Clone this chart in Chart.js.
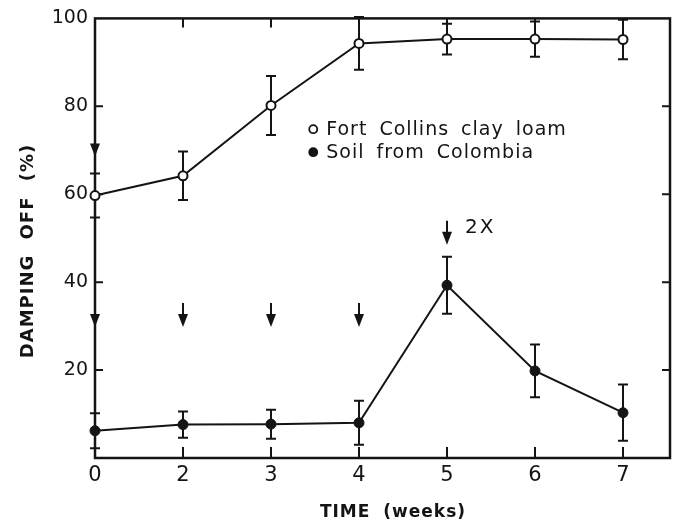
<!DOCTYPE html>
<html lang="en">
<head>
  <meta charset="UTF-8">
  <title>Damping off over time</title>
  <script src="https://cdn.jsdelivr.net/npm/chart.js@4"></script>
  <style>
    html, body { margin: 0; padding: 0; background: #fff; }
    #wrap { width: 677px; height: 526px; }
  </style>
</head>
<body>
  <div id="wrap"><canvas id="dampingChart"></canvas></div>
  <script>
    // weeks (there is no week 1, the points are evenly spaced)
    const weekLabels = ['0', '2', '3', '4', '5', '6', '7'];
    const fortCollins = [59.7, 64.2, 80.2, 94.3, 95.3, 95.3, 95.2];
    const fortCollinsErr = [5, 5.5, 6.7, 6, 3.5, 4, 4.5];
    const colombia = [6.2, 7.6, 7.7, 8, 39.3, 19.8, 10.3];
    const colombiaErr = [4, 3, 3.3, 5, 6.5, 6, 6.4];
    const yTicks = [20, 40, 60, 80, 100];

    // arrows: index on the week axis and value at the arrow tip
    const arrowAt = [0, 0, 1, 2, 3, 4];
    const arrowTip = [68.6, 29.8, 29.8, 29.8, 29.8, 48.5];
    const arrowNote = '2X';

    const xTitle = 'TIME (weeks)';
    const yTitle = 'DAMPING OFF (%)';

    const INK = '#141414';
    const FONT = '"DejaVu Sans", sans-serif';

    // error bars, drawn under the markers
    const errorBars = {
      id: 'errorBars',
      beforeDatasetsDraw(chart) {
        const { ctx, scales: { x, y } } = chart;
        ctx.save();
        ctx.strokeStyle = INK;
        ctx.lineWidth = 2;
        chart.data.datasets.forEach(ds => {
          ds.data.forEach((p, i) => {
            const px = x.getPixelForValue(p.x);
            const top = y.getPixelForValue(p.y + ds.err[i]);
            const bot = y.getPixelForValue(p.y - ds.err[i]);
            ctx.beginPath();
            ctx.moveTo(px, top); ctx.lineTo(px, bot);
            ctx.moveTo(px - 5, top); ctx.lineTo(px + 5, top);
            ctx.moveTo(px - 5, bot); ctx.lineTo(px + 5, bot);
            ctx.stroke();
          });
        });
        ctx.restore();
      }
    };

    // box frame with inward ticks on all four sides, plus axis titles
    const frame = {
      id: 'frame',
      beforeDatasetsDraw(chart) {
        const { ctx, chartArea: a, scales: { x, y } } = chart;
        ctx.save();
        ctx.strokeStyle = INK;
        ctx.lineWidth = 2.5;
        ctx.strokeRect(a.left, a.top, a.right - a.left, a.bottom - a.top);
        ctx.lineWidth = 2;
        ctx.beginPath();
        weekLabels.forEach((_, i) => {
          if (i === 0) return;
          const px = x.getPixelForValue(i);
          ctx.moveTo(px, a.bottom); ctx.lineTo(px, a.bottom - 11);
          ctx.moveTo(px, a.top); ctx.lineTo(px, a.top + 9);
        });
        yTicks.forEach(v => {
          if (v === 100) return;
          const py = y.getPixelForValue(v);
          ctx.moveTo(a.left, py); ctx.lineTo(a.left + 8, py);
          ctx.moveTo(a.right, py); ctx.lineTo(a.right - 8, py);
        });
        ctx.stroke();

        // axis titles
        ctx.fillStyle = INK;
        ctx.textAlign = 'center';
        ctx.textBaseline = 'middle';
        ctx.font = 'bold 17px ' + FONT;
        ctx.letterSpacing = '1px';
        ctx.wordSpacing = '6px';
        ctx.fillText(xTitle, 393, 513);
        ctx.translate(28, 251);
        ctx.rotate(-Math.PI / 2);
        ctx.font = 'bold 18px ' + FONT;
        ctx.letterSpacing = '1px';
        ctx.wordSpacing = '8px';
        ctx.fillText(yTitle, 0, 0);
        ctx.restore();
      }
    };

    // arrows, the 2X note and the legend
    const notes = {
      id: 'notes',
      afterDatasetsDraw(chart) {
        const { ctx, scales: { x, y } } = chart;
        ctx.save();
        ctx.strokeStyle = INK;
        ctx.fillStyle = INK;
        ctx.lineWidth = 2;
        arrowAt.forEach((idx, k) => {
          const px = x.getPixelForValue(idx);
          const tip = y.getPixelForValue(arrowTip[k]);
          ctx.beginPath();
          ctx.moveTo(px, tip - 24); ctx.lineTo(px, tip - 8);
          ctx.stroke();
          ctx.beginPath();
          ctx.moveTo(px - 5, tip - 13);
          ctx.lineTo(px + 5, tip - 13);
          ctx.lineTo(px, tip);
          ctx.closePath();
          ctx.fill();
        });
        const last = arrowAt.length - 1;
        ctx.font = '20px ' + FONT;
        ctx.letterSpacing = '2px';
        ctx.textBaseline = 'middle';
        ctx.fillText(arrowNote, x.getPixelForValue(arrowAt[last]) + 18, y.getPixelForValue(arrowTip[last]) - 17);

        // legend
        const lx = x.getPixelForValue(2.48);
        const ly = y.getPixelForValue(74.8);
        chart.data.datasets.forEach((ds, i) => {
          const py = ly + i * 23;
          ctx.beginPath();
          ctx.arc(lx, py, 4, 0, Math.PI * 2);
          ctx.fillStyle = ds.pointBackgroundColor;
          ctx.fill();
          ctx.lineWidth = 1.8;
          ctx.stroke();
          ctx.fillStyle = INK;
          ctx.font = '19px ' + FONT;
          ctx.letterSpacing = '1px';
          ctx.wordSpacing = '5px';
          ctx.fillText(ds.label, lx + 13, py + 1);
        });
        ctx.restore();
      }
    };

    const toPoints = arr => arr.map((v, i) => ({ x: i, y: v }));

    new Chart(document.getElementById('dampingChart'), {
      type: 'line',
      data: {
        datasets: [
          {
            label: 'Fort Collins clay loam',
            data: toPoints(fortCollins),
            err: fortCollinsErr,
            borderColor: INK,
            borderWidth: 2,
            pointRadius: 4.5,
            pointBorderWidth: 2,
            pointBackgroundColor: '#ffffff',
            pointBorderColor: INK,
            clip: false
          },
          {
            label: 'Soil from Colombia',
            data: toPoints(colombia),
            err: colombiaErr,
            borderColor: INK,
            borderWidth: 2,
            pointRadius: 5,
            pointBorderWidth: 1,
            pointBackgroundColor: INK,
            pointBorderColor: INK,
            clip: false
          }
        ]
      },
      options: {
        responsive: true,
        maintainAspectRatio: false,
        animation: false,
        events: [],
        layout: { padding: { top: 18, right: 7, left: 0, bottom: 0 } },
        plugins: { legend: { display: false }, tooltip: { enabled: false } },
        scales: {
          x: {
            type: 'linear',
            min: 0,
            max: 575 / 88,
            grid: { display: false, drawTicks: false },
            border: { display: false },
            afterBuildTicks: s => { s.ticks = weekLabels.map((_, i) => ({ value: i })); },
            afterFit: s => { s.height = 68; },
            ticks: {
              color: INK,
              padding: 5,
              maxRotation: 0,
              font: { family: FONT, size: 21 },
              callback: v => weekLabels[v]
            }
          },
          y: {
            min: 0,
            max: 100,
            grid: { display: false, drawTicks: false },
            border: { display: false },
            afterBuildTicks: s => { s.ticks = yTicks.map(v => ({ value: v })); },
            afterFit: s => { s.width = 95; },
            ticks: {
              color: INK,
              padding: 7,
              font: { family: FONT, size: 19 }
            }
          }
        }
      },
      plugins: [frame, errorBars, notes]
    });
  </script>
</body>
</html>
